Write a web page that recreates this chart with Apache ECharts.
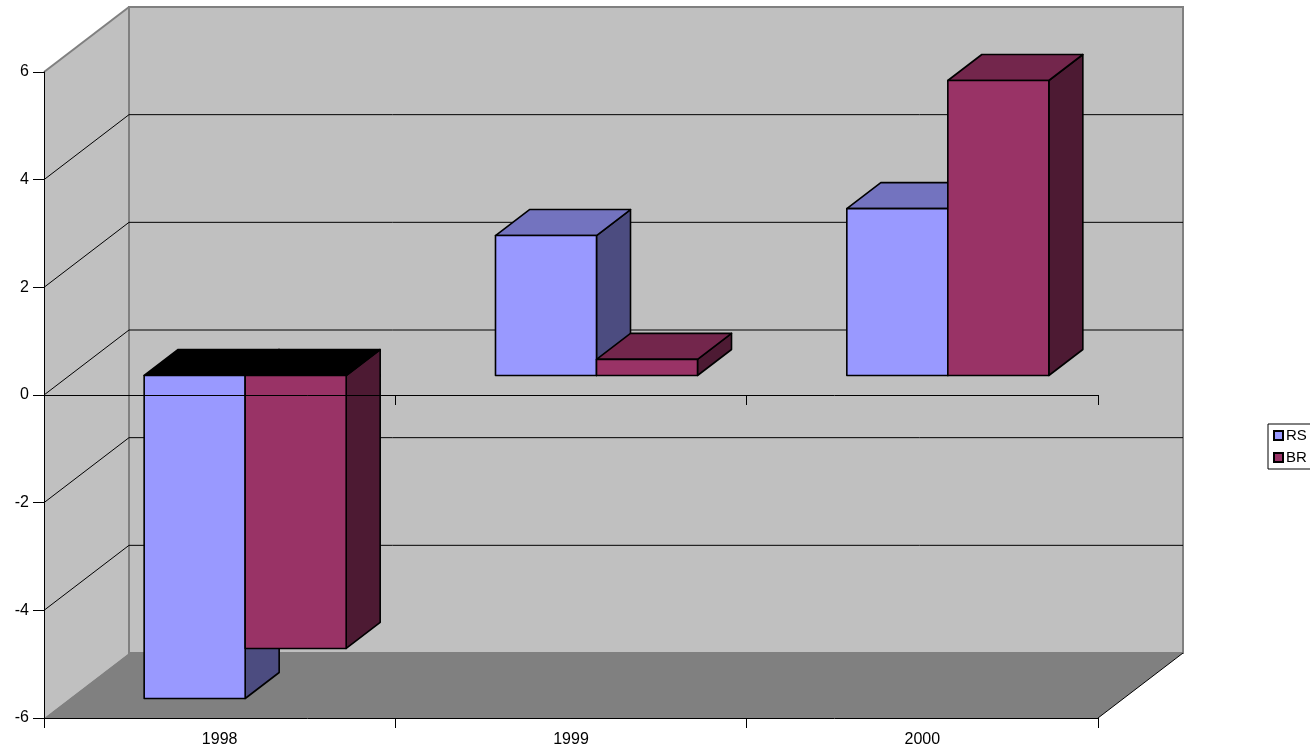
<!DOCTYPE html>
<html>
<head>
<meta charset="utf-8">
<title>RS / BR</title>
<script src="https://cdn.jsdelivr.net/npm/echarts@6/dist/echarts.min.js"></script>
<style>
	html, body { margin: 0; padding: 0; background: #fff; }
	#chart_1 { width: 1310px; height: 753px; }
</style>
</head>
<body>
<div id="chart_1"></div>
<script>
var categories = ['1998', '1999', '2000'];
var rsValues = [-6, 2.6, 3.1];
var brValues = [-5.07, 0.3, 5.48];
var yTicks = [-6, -4, -2, 0, 2, 4, 6];

// 3D look: back plane offset and bar depth (fractions of the floor depth)
var DX = 85, DY = -65;
var F0 = 0.3, FD = 0.4;
var BAR_RATIO = 0.2875;
var FONT = "'Liberation Sans', Arial, sans-serif";

function drawWalls(params, api) {
	var band = api.size([1, 0])[0];
	var xl = api.coord([0, 0])[0] - band / 2;
	var xr = api.coord([categories.length - 1, 0])[0] + band / 2;
	var yTop = api.coord([0, yTicks[yTicks.length - 1]])[1];
	var yBot = api.coord([0, yTicks[0]])[1];
	var children = [];
	// left wall
	children.push({
		type: 'polygon',
		shape: { points: [[xl, yTop], [xl + DX, yTop + DY], [xl + DX, yBot + DY], [xl, yBot]] },
		style: { fill: '#c0c0c0', stroke: null }
	});
	// back wall
	children.push({
		type: 'rect',
		shape: { x: xl + DX, y: yTop + DY, width: xr - xl, height: yBot - yTop },
		style: { fill: '#c0c0c0', stroke: '#808080', lineWidth: 2 }
	});
	// floor
	children.push({
		type: 'polygon',
		shape: { points: [[xl, yBot], [xr, yBot], [xr + DX, yBot + DY], [xl + DX, yBot + DY]] },
		style: { fill: '#808080', stroke: null }
	});
	children.push({
		type: 'line',
		shape: { x1: xr, y1: yBot, x2: xr + DX, y2: yBot + DY },
		style: { stroke: '#000', lineWidth: 1 }
	});
	// gridlines on back and side walls
	for (var i = 1; i < yTicks.length; i++) {
		var y = api.coord([0, yTicks[i]])[1];
		var col = i === yTicks.length - 1 ? '#808080' : '#000';
		children.push({
			type: 'line',
			shape: { x1: xl, y1: y, x2: xl + DX, y2: y + DY },
			style: { stroke: col, lineWidth: i === yTicks.length - 1 ? 2 : 1 }
		});
		if (i < yTicks.length - 1) {
			children.push({
				type: 'line',
				shape: { x1: xl + DX, y1: y + DY, x2: xr + DX, y2: y + DY },
				style: { stroke: '#000', lineWidth: 1 }
			});
		}
	}
	return { type: 'group', children: children };
}

function barRenderer(slot, front, topCol, side) {
	return function(params, api) {
		var cat = api.value(0);
		var v = api.value(1);
		var base = api.coord([cat, 0]);
		var tip = api.coord([cat, v]);
		var band = api.size([1, 0])[0];
		var w = band * BAR_RATIO;
		var dx = DX * FD, dy = DY * FD;
		var x0 = base[0] + (slot === 0 ? -w : 0) + DX * F0;
		var x1 = x0 + w;
		var yb = base[1] + DY * F0;
		var yt = tip[1] + DY * F0;
		var yHigh = Math.min(yb, yt);
		var yLow = Math.max(yb, yt);
		var edge = { stroke: '#000', lineWidth: 1.6, lineJoin: 'round' };
		return {
			type: 'group',
			children: [{
				type: 'polygon',
				shape: { points: [[x1, yHigh], [x1 + dx, yHigh + dy], [x1 + dx, yLow + dy], [x1, yLow]] },
				style: Object.assign({ fill: side }, edge)
			}, {
				type: 'polygon',
				shape: { points: [[x0, yHigh], [x0 + dx, yHigh + dy], [x1 + dx, yHigh + dy], [x1, yHigh]] },
				style: Object.assign({ fill: v < 0 ? '#000' : topCol }, edge)
			}, {
				type: 'rect',
				shape: { x: x0, y: yHigh, width: w, height: yLow - yHigh },
				style: Object.assign({ fill: front }, edge)
			}]
		};
	};
}

function toData(vals) {
	var out = [];
	for (var i = 0; i < vals.length; i++) {
		out.push([i, vals[i]]);
	}
	return out;
}

var myChart = echarts.init(document.getElementById('chart_1'));
var option = {
	backgroundColor: '#fff',
	animation: false,
	textStyle: { fontFamily: FONT },
	grid: {
		left: 44,
		right: 212,
		top: 72,
		bottom: 35,
		containLabel: false
	},
	legend: {
		data: ['RS', 'BR'],
		orient: 'vertical',
		left: 1268,
		top: 424,
		padding: [4, 40, 4, 5],
		itemGap: 7,
		itemWidth: 9,
		itemHeight: 9,
		icon: 'rect',
		backgroundColor: '#fff',
		borderColor: '#000',
		borderWidth: 1,
		borderRadius: 0,
		textStyle: { fontSize: 15, color: '#000', fontFamily: FONT, padding: [0, 0, 0, -2] }
	},
	xAxis: [{
		type: 'category',
		data: categories,
		position: 'bottom',
		z: 10,
		axisLine: { onZero: false, lineStyle: { color: '#000', width: 1 } },
		axisTick: { show: true, length: 10, lineStyle: { color: '#000' } },
		axisLabel: { fontSize: 16, color: '#000', margin: 14, fontFamily: FONT },
		splitLine: { show: false }
	}, {
		type: 'category',
		data: categories,
		position: 'bottom',
		z: 10,
		axisLine: { onZero: true, lineStyle: { color: '#000', width: 1 } },
		axisTick: { show: true, length: 10, lineStyle: { color: '#000' } },
		axisLabel: { show: false },
		splitLine: { show: false }
	}],
	yAxis: {
		type: 'value',
		min: yTicks[0],
		max: yTicks[yTicks.length - 1],
		interval: 2,
		z: 10,
		axisLine: { show: true, lineStyle: { color: '#000', width: 1 } },
		axisTick: { show: true, length: 11, lineStyle: { color: '#000' } },
		axisLabel: { fontSize: 16, color: '#000', margin: 15, fontFamily: FONT },
		splitLine: { show: false }
	},
	series: [{
		name: 'walls',
		type: 'custom',
		silent: true,
		z: 1,
		renderItem: drawWalls,
		data: [[0, 0]]
	}, {
		name: 'RS',
		type: 'custom',
		z: 2,
		itemStyle: { color: '#9999FF', borderColor: '#000', borderWidth: 1 },
		renderItem: barRenderer(0, '#9999FF', '#7373BF', '#4C4C80'),
		data: toData(rsValues)
	}, {
		name: 'BR',
		type: 'custom',
		z: 3,
		itemStyle: { color: '#993366', borderColor: '#000', borderWidth: 1 },
		renderItem: barRenderer(1, '#993366', '#73264C', '#4D1A33'),
		data: toData(brValues)
	}]
};
myChart.setOption(option);
</script>
</body>
</html>
